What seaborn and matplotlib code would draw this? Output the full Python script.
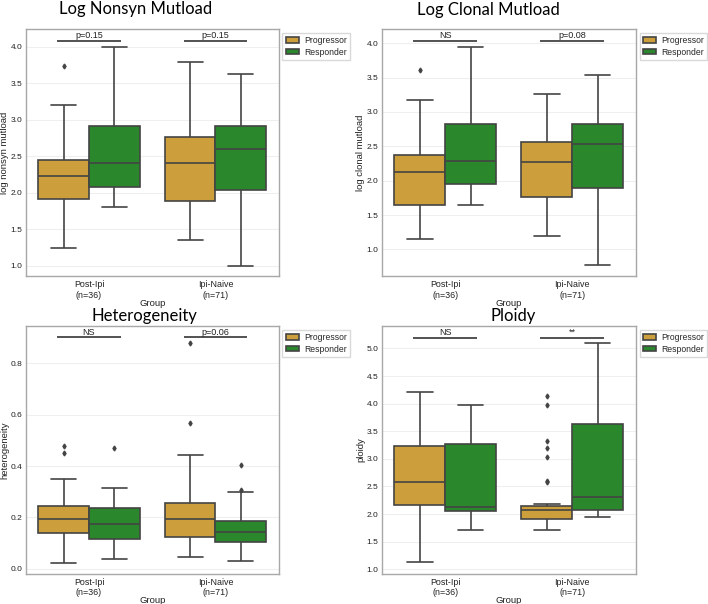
import numpy as np
import pandas as pd
import matplotlib
matplotlib.use("Agg")
import matplotlib.pyplot as plt
import seaborn as sns

# ---------------- data ----------------
groups = ["Post-Ipi\n(n=36)", "Ipi-Naive\n(n=71)"]
responses = ["Progressor", "Responder"]
# order of boxes: Post-Ipi Prog, Post-Ipi Resp, Ipi-Naive Prog, Ipi-Naive Resp

nonsyn_lo = [1.24, 1.81, 1.35, 1.00]
nonsyn_q1 = [1.92, 2.08, 1.88, 2.04]
nonsyn_med = [2.23, 2.41, 2.41, 2.60]
nonsyn_q3 = [2.45, 2.92, 2.76, 2.91]
nonsyn_hi = [3.20, 4.00, 3.79, 3.63]
nonsyn_out = [[3.73], [], [], []]

clonal_lo = [1.15, 1.64, 1.20, 0.77]
clonal_q1 = [1.65, 1.95, 1.76, 1.89]
clonal_med = [2.13, 2.29, 2.27, 2.54]
clonal_q3 = [2.37, 2.83, 2.56, 2.83]
clonal_hi = [3.18, 3.95, 3.26, 3.54]
clonal_out = [[3.61], [], [], []]

het_lo = [0.021, 0.037, 0.044, 0.029]
het_q1 = [0.137, 0.116, 0.123, 0.104]
het_med = [0.195, 0.174, 0.192, 0.144]
het_q3 = [0.243, 0.238, 0.254, 0.184]
het_hi = [0.349, 0.315, 0.444, 0.300]
het_out = [[0.451, 0.477], [0.472], [0.569, 0.881], [0.308, 0.403]]

ploidy_lo = [1.13, 1.72, 1.72, 1.95]
ploidy_q1 = [2.16, 2.06, 1.91, 2.08]
ploidy_med = [2.58, 2.12, 2.07, 2.31]
ploidy_q3 = [3.24, 3.27, 2.15, 3.63]
ploidy_hi = [4.21, 3.97, 2.18, 5.09]
ploidy_out = [[], [], [2.58, 2.60, 3.04, 3.20, 3.33, 3.97, 4.13], []]

titles = ["Log Nonsyn Mutload", "Log Clonal Mutload", "Heterogeneity", "Ploidy"]
ylabels = ["log nonsyn mutload", "log clonal mutload", "heterogeneity", "ploidy"]
sig_labels = [["p=0.15", "p=0.15"], ["NS", "p=0.08"], ["NS", "p=0.06"], ["NS", "**"]]
sig_heights = [4.08, 4.03, 0.902, 5.196]
yticks_list = [[1.0, 1.5, 2.0, 2.5, 3.0, 3.5, 4.0],
               [1.0, 1.5, 2.0, 2.5, 3.0, 3.5, 4.0],
               [0.0, 0.2, 0.4, 0.6, 0.8],
               [1.0, 1.5, 2.0, 2.5, 3.0, 3.5, 4.0, 4.5, 5.0]]
ylims = [(0.859, 4.238), (0.614, 4.203), (-0.020, 0.945), (0.92, 5.40)]

colors = ["#CC9E3C", "#2B872B"]


def sample_from_summary(lo, q1, med, q3, hi, outliers):
    """Build a sample whose box-plot statistics equal the given summary."""
    low = sorted([o for o in outliers if o < q1])
    high = sorted([o for o in outliers if o > q3])
    k = max(len(low), len(high)) + 1
    vals = (low + [lo] * (k - len(low)) + [q1] * k + [med] * k + [q3]
            + [hi] * (k - len(high)) + high)
    return vals


def build_frame(lo, q1, med, q3, hi, out):
    rows = []
    i = 0
    for g in groups:
        for r in responses:
            for v in sample_from_summary(lo[i], q1[i], med[i], q3[i], hi[i], out[i]):
                rows.append({"Group": g, "Response": r, "value": v})
            i += 1
    return pd.DataFrame(rows)


frames = [
    build_frame(nonsyn_lo, nonsyn_q1, nonsyn_med, nonsyn_q3, nonsyn_hi, nonsyn_out),
    build_frame(clonal_lo, clonal_q1, clonal_med, clonal_q3, clonal_hi, clonal_out),
    build_frame(het_lo, het_q1, het_med, het_q3, het_hi, het_out),
    build_frame(ploidy_lo, ploidy_q1, ploidy_med, ploidy_q3, ploidy_hi, ploidy_out),
]

# ---------------- style ----------------
sns.set_theme(style="whitegrid")
plt.rcParams["font.family"] = ["Liberation Sans", "DejaVu Sans"]

W, H = 708, 604
fig = plt.figure(figsize=(W / 100, H / 100), dpi=100)

# axes boxes in pixels: (left, top, right, bottom)
boxes_px = [(25.7, 29.3, 278.7, 276.0), (381.7, 29.3, 635.7, 276.0),
            (25.7, 326.3, 278.7, 573.7), (381.7, 326.3, 635.7, 573.7)]
title_pos = [(136, 14.0), (488, 14.5), (144, 321.3), (513, 321.3)]

line_c = "#444444"
for idx in range(4):
    l, t, r, b = boxes_px[idx]
    wpx, hpx = r - l, b - t
    ax = fig.add_axes([l / W, 1 - b / H, wpx / W, hpx / H])
    sns.boxplot(data=frames[idx], x="Group", y="value", hue="Response",
                order=groups, hue_order=responses, palette=colors,
                saturation=1, width=0.8, linewidth=1.2, linecolor=line_c,
                flierprops=dict(marker="d", markersize=2.5,
                                markerfacecolor=line_c, markeredgecolor=line_c),
                ax=ax)
    ax.set_xlim(-0.5, 1.5)
    ax.set_ylim(*ylims[idx])
    ax.set_yticks(yticks_list[idx])
    ax.set_yticklabels([f"{v:.1f}" for v in yticks_list[idx]])
    ax.grid(axis="y", color="#efefef", linewidth=0.8)
    ax.grid(axis="x", visible=False)
    for s in ax.spines.values():
        s.set_color("#a8a8a8")
        s.set_linewidth(1.0)
    ax.tick_params(axis="x", labelsize=6.4, length=0, pad=3, colors="#222222")
    ax.tick_params(axis="y", labelsize=6.0, length=0, pad=2.5, colors="#222222")
    ax.set_xlabel("Group", fontsize=6.8, color="#222222")
    ax.set_ylabel(ylabels[idx], fontsize=6.8, color="#222222")
    ax.xaxis.set_label_coords(0.5, -0.092)
    ax.yaxis.set_label_coords(-16.5 / wpx, 0.5)

    # significance bars
    for gi in range(2):
        ax.plot([gi - 0.25, gi + 0.25], [sig_heights[idx]] * 2,
                color=line_c, linewidth=1.3, solid_capstyle="butt")
        ax.annotate(sig_labels[idx][gi], xy=(gi, sig_heights[idx]),
                    xytext=(0, 0.5), textcoords="offset points",
                    ha="center", va="bottom", fontsize=6.5, color="#222222")

    sns.move_legend(ax, "upper left", bbox_to_anchor=(1.015, 0.985),
                    borderaxespad=0, title=None, frameon=True, fontsize=6.2,
                    handlelength=1.6, handleheight=0.6, labelspacing=0.3,
                    borderpad=0.35, handletextpad=0.6,
                    fancybox=False, edgecolor="#d0d0d0")

    tx, ty = title_pos[idx]
    fig.text(tx / W, 1 - ty / H, titles[idx], ha="center", va="baseline",
             fontsize=12, family=["Lato", "DejaVu Sans"], color="black")

fig.savefig("out.png", dpi=100)
